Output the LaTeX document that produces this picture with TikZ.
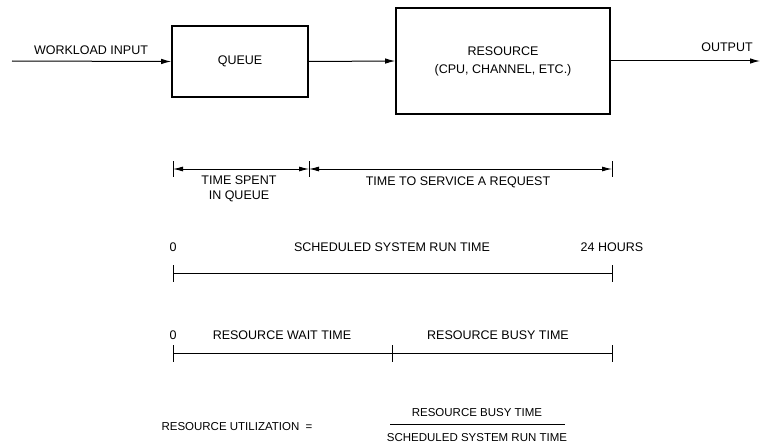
\documentclass[tikz,border=0pt]{standalone}
\usepackage{fontspec}
\setmainfont{Liberation Sans}
\usetikzlibrary{arrows.meta}
\begin{document}
\begin{tikzpicture}[x=1pt,y=-1pt,
  every node/.style={font=\fontsize{12.5}{14}\selectfont, inner sep=0pt},
  box/.style={draw, line width=1.6pt, align=center},
  flow/.style={line width=1pt, -{Latex[length=10pt,width=5.5pt]}},
  dim/.style={line width=0.9pt, {Latex[length=10pt,width=5pt]}-{Latex[length=10pt,width=5pt]}},
  tline/.style={line width=0.9pt},
  lbl/.style={align=center},
  flbl/.style={align=center, font=\fontsize{11.5}{13}\selectfont}]
\useasboundingbox (0,0) rectangle (764,444);
% top flow
\node[box, minimum width=136pt, minimum height=71pt] (queue) at (240,61.5) {QUEUE};
\node[box, minimum width=214pt, minimum height=106pt] (res) at (503,61) {RESOURCE\\[4pt](CPU, CHANNEL, ETC.)};
\coordinate (in) at (12,61);
\coordinate (out) at (760,61);
\draw[flow] (in) -- (queue.west);
\draw[flow] (queue.east) -- (res.west);
\draw[flow] (res.east) -- (out);
\node[lbl] (wl) at (91,50) {WORKLOAD INPUT};
\node[lbl] (op) at (727,47) {OUTPUT};
% dimension row
\coordinate (a1) at (173,169); \coordinate (a2) at (309,169); \coordinate (a3) at (612,169);
\coordinate (a1t) at (173,161); \coordinate (a1b) at (173,177);
\coordinate (a2t) at (309,161); \coordinate (a2b) at (309,177);
\coordinate (a3t) at (612,161); \coordinate (a3b) at (612,177);
\draw[tline] (a1t) -- (a1b);
\draw[tline] (a2t) -- (a2b);
\draw[tline] (a3t) -- (a3b);
\draw[dim] (a1) -- (a2);
\draw[dim] (a2) -- (a3);
\node[lbl] (tq) at (239,189) {TIME SPENT\\[1pt]IN QUEUE};
\node[lbl] (ts) at (458,182) {TIME TO SERVICE A REQUEST};
% scheduled run time
\coordinate (b1) at (173,273); \coordinate (b3) at (612,273);
\coordinate (b1t) at (173,265); \coordinate (b1b) at (173,282);
\coordinate (b3t) at (612,265); \coordinate (b3b) at (612,282);
\draw[tline] (b1) -- (b3);
\draw[tline] (b1t) -- (b1b);
\draw[tline] (b3t) -- (b3b);
\node[lbl] (z1) at (173,247) {0};
\node[lbl] (ssr) at (392,247) {SCHEDULED SYSTEM RUN TIME};
\node[lbl] (h24) at (612,247) {24 HOURS};
% wait / busy
\coordinate (c1) at (173,353); \coordinate (c2) at (392,353); \coordinate (c3) at (612,353);
\coordinate (c1t) at (173,345); \coordinate (c1b) at (173,362);
\coordinate (c2t) at (392,345); \coordinate (c2b) at (392,362);
\coordinate (c3t) at (612,345); \coordinate (c3b) at (612,362);
\draw[tline] (c1) -- (c3);
\draw[tline] (c1t) -- (c1b);
\draw[tline] (c2t) -- (c2b);
\draw[tline] (c3t) -- (c3b);
\node[lbl] (z2) at (173,335) {0};
\node[lbl] (rw) at (282,335) {RESOURCE WAIT TIME};
\node[lbl] (rb) at (498,335) {RESOURCE BUSY TIME};
% formula
\node[flbl] (ru) at (237,427) {RESOURCE UTILIZATION \ =};
\node[flbl] (num) at (477,413) {RESOURCE BUSY TIME};
\node[flbl] (den) at (477,438) {SCHEDULED SYSTEM RUN TIME};
\coordinate (f1) at (390,424); \coordinate (f2) at (565,424);
\draw[tline] (f1) -- (f2);
\end{tikzpicture}
\end{document}
